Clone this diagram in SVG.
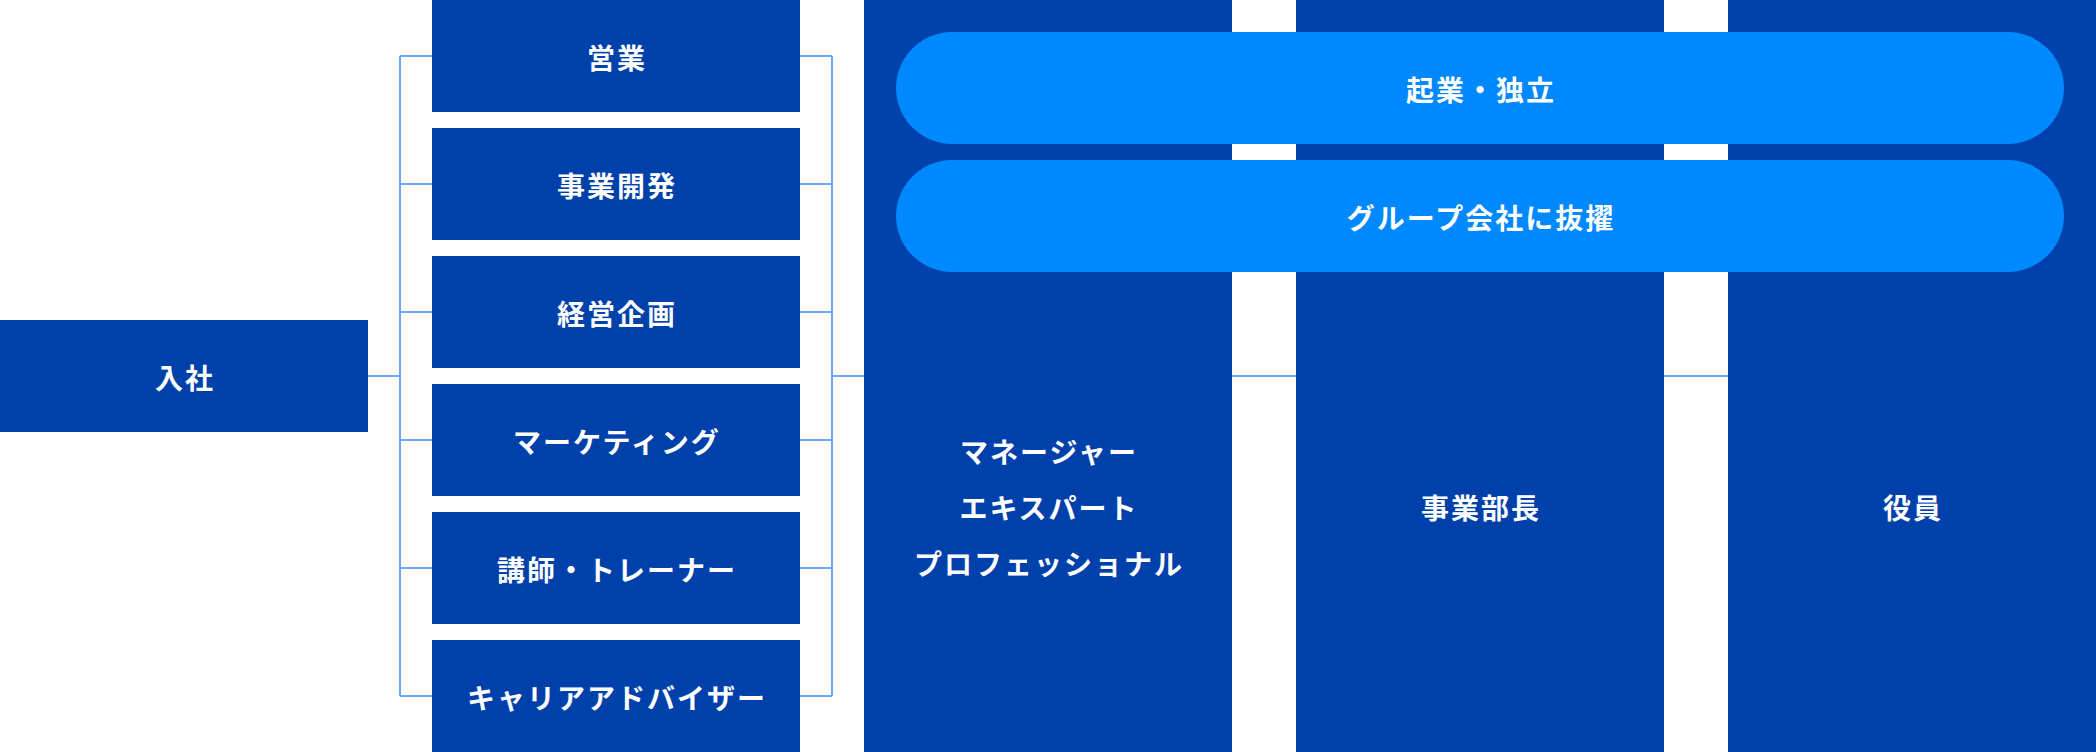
<svg xmlns="http://www.w3.org/2000/svg" width="2096" height="752" viewBox="0 0 2096 752">
  <style>
    .box { fill: #0040AA; }
    .pill { fill: #0088FF; }
    .lbl { fill: #FFFFFF; font-family: "Noto Sans CJK JP", "Noto Sans", sans-serif; font-weight: 700; font-size: 28px; letter-spacing: 2px; text-anchor: middle; dominant-baseline: central; }
    .conn { stroke: #73A2FF; stroke-width: 2; fill: none; }
  </style>
  <rect width="2096" height="752" fill="#FFFFFF"/>

  <g id="connectors">
    <path class="conn" d="M368 376 H400"/>
    <path class="conn" d="M400 56 V696"/>
    <path class="conn" d="M400 56 H432 M400 184 H432 M400 312 H432 M400 440 H432 M400 568 H432 M400 696 H432"/>
    <path class="conn" d="M832 56 V696"/>
    <path class="conn" d="M800 56 H832 M800 184 H832 M800 312 H832 M800 440 H832 M800 568 H832 M800 696 H832"/>
    <path class="conn" d="M832 376 H864"/>
    <path class="conn" d="M1232 376 H1296"/>
    <path class="conn" d="M1664 376 H1728"/>
  </g>

  <g id="node-nyusha">
    <rect class="box" x="0" y="320" width="368" height="112"/>
    <text class="lbl" x="185" y="377">入社</text>
  </g>

  <g id="node-eigyo">
    <rect class="box" x="432" y="0" width="368" height="112"/>
    <text class="lbl" x="617" y="57">営業</text>
  </g>
  <g id="node-jigyokaihatsu">
    <rect class="box" x="432" y="128" width="368" height="112"/>
    <text class="lbl" x="617" y="185">事業開発</text>
  </g>
  <g id="node-keieikikaku">
    <rect class="box" x="432" y="256" width="368" height="112"/>
    <text class="lbl" x="617" y="313">経営企画</text>
  </g>
  <g id="node-marketing">
    <rect class="box" x="432" y="384" width="368" height="112"/>
    <text class="lbl" x="617" y="441">マーケティング</text>
  </g>
  <g id="node-koushi">
    <rect class="box" x="432" y="512" width="368" height="112"/>
    <text class="lbl" x="617" y="569">講師・トレーナー</text>
  </g>
  <g id="node-career">
    <rect class="box" x="432" y="640" width="368" height="112"/>
    <text class="lbl" x="617" y="697">キャリアアドバイザー</text>
  </g>

  <g id="node-manager">
    <rect class="box" x="864" y="0" width="368" height="752"/>
    <text class="lbl" x="1049" y="451">マネージャー</text>
    <text class="lbl" x="1049" y="507">エキスパート</text>
    <text class="lbl" x="1049" y="563">プロフェッショナル</text>
  </g>
  <g id="node-buchou">
    <rect class="box" x="1296" y="0" width="368" height="752"/>
    <text class="lbl" x="1481" y="507">事業部長</text>
  </g>
  <g id="node-yakuin">
    <rect class="box" x="1728" y="0" width="368" height="752"/>
    <text class="lbl" x="1913" y="507">役員</text>
  </g>

  <g id="node-kigyo">
    <rect class="pill" x="896" y="32" width="1168" height="112" rx="56" ry="56"/>
    <text class="lbl" x="1481" y="89">起業・独立</text>
  </g>
  <g id="node-group">
    <rect class="pill" x="896" y="160" width="1168" height="112" rx="56" ry="56"/>
    <text class="lbl" x="1481" y="217">グループ会社に抜擢</text>
  </g>
</svg>
